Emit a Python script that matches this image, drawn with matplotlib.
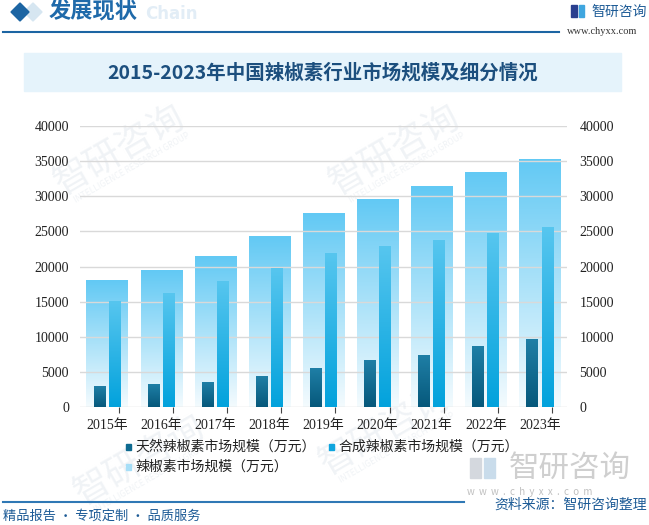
import numpy as np
import matplotlib
matplotlib.use('Agg')
import matplotlib.pyplot as plt
from matplotlib.colors import LinearSegmentedColormap
from matplotlib.patches import Rectangle, Polygon

plt.rcParams['font.family'] = ['Noto Sans CJK SC', 'DejaVu Sans']

years = ['2015年', '2016年', '2017年', '2018年', '2019年', '2020年', '2021年', '2022年', '2023年']
natural = [2850, 3150, 3550, 4400, 5550, 6550, 7400, 8550, 9550]
synthetic = [15000, 16100, 17800, 19700, 21800, 22800, 23650, 24650, 25500]
total = [18000, 19400, 21400, 24200, 27500, 29500, 31350, 33350, 35200]
yticks = [0, 5000, 10000, 15000, 20000, 25000, 30000, 35000, 40000]
legend_labels = ['天然辣椒素市场规模（万元）', '合成辣椒素市场规模（万元）', '辣椒素市场规模（万元）']

W, H = 649, 525
blue = '#1c65a3'
fig = plt.figure(figsize=(W / 100, H / 100), dpi=100)

# background layer in pixel coords
bg = fig.add_axes([0, 0, 1, 1], zorder=-1)
bg.set_xlim(0, W)
bg.set_ylim(H, 0)
bg.axis('off')

# faint watermarks
for (wx, wy) in [(120, 150), (395, 150), (140, 460), (385, 430)]:
    bg.text(wx, wy, '智研咨询', fontsize=26, color='#f0f3f6', rotation=30,
            ha='center', va='center', zorder=0)
    bg.text(wx + 12, wy + 18, 'INTELLIGENCE RESEARCH GROUP', fontsize=6, color='#f0f3f6',
            rotation=30, ha='center', va='center', zorder=0)

# header
bg.add_patch(Polygon([(33, 3), (42, 12), (33, 21), (24, 12)], color='#d6e6f1', zorder=1))
bg.add_patch(Polygon([(20, 3), (29, 12), (20, 21), (11, 12)], color=blue, zorder=2))
bg.text(198, 14, 'Chain', fontsize=12, fontweight='bold', color='#e2edf6',
        ha='right', va='center', family='DejaVu Sans', zorder=1)
bg.text(49, 12, '发展现状', fontsize=16, fontweight='bold', color='#1f6aaa', va='center', zorder=3)
bg.plot([3, 559], [32, 32], color=blue, lw=1.5)
bg.add_patch(Rectangle((571, 5), 6, 12, color='#2a3f8f'))
bg.add_patch(Rectangle((579, 5), 5, 12, color='#3fa6df'))
bg.text(591, 12, '智研咨询', fontsize=10, color='#1d5b96', va='center')
bg.text(567, 32, 'www.chyxx.com', fontsize=7.5, color='#333333', va='center',
        family='Liberation Serif')

# title box
bg.add_patch(Rectangle((24, 53), 597, 38, color='#e5f3fb'))
bg.text(323, 73, '2015-2023年中国辣椒素行业市场规模及细分情况', fontsize=14, fontweight='bold',
        color='#1c4f7e', ha='center', va='center')

# footer
bg.text(570, 468, '智研咨询', fontsize=22, color='#cfcfcf', ha='center', va='center')
bg.add_patch(Rectangle((470, 458), 11, 20, color='#d4d8de'))
bg.add_patch(Rectangle((484, 458), 11, 20, color='#c9dceb'))
bg.text(530, 492, 'w  w  w  .  c  h  y  x  x  .  c  o  m', fontsize=7, color='#c0c0c0',
        ha='center', va='center')
bg.plot([3, 464], [502, 502], color='#2f78b5', lw=1.5)
bg.text(647, 505, '资料来源：智研咨询整理', fontsize=10, color='#1d5b96', ha='right', va='center')
bg.text(3, 516, '精品报告 · 专项定制 · 品质服务', fontsize=9.5, color='#1d5b96', va='center')

# chart
ax = fig.add_axes([80 / W, 1 - 407 / H, (567 - 80) / W, (407 - 126) / H])
ax.set_facecolor('none')
x = np.arange(len(years))


def grad_fill(bars, bottom_c, top_c, z):
    cmap = LinearSegmentedColormap.from_list('g', [bottom_c, top_c])
    grad = np.linspace(0, 1, 256).reshape(-1, 1)
    for b in bars:
        x0, w, h = b.get_x(), b.get_width(), b.get_height()
        ax.imshow(grad, extent=[x0, x0 + w, 0, h], origin='lower', aspect='auto',
                  cmap=cmap, zorder=z, interpolation='bicubic')


b_tot = ax.bar(x, total, width=0.76, color='none', zorder=1)
b_nat = ax.bar(x - 0.14, natural, width=0.22, color='none', zorder=3)
b_syn = ax.bar(x + 0.14, synthetic, width=0.22, color='none', zorder=3)
grad_fill(b_tot, '#f4fbfe', '#62c9f4', 1)
grad_fill(b_nat, '#06587b', '#1f7fa6', 3)
grad_fill(b_syn, '#02a2dc', '#57c6ef', 3)

for yv in yticks:
    ax.axhline(yv, color='#d9d9d9', lw=1, zorder=2)

ax.set_xlim(-0.5, len(years) - 0.5)
ax.set_ylim(0, 40000)
for s in ax.spines.values():
    s.set_visible(False)

tick_font = ['Liberation Serif', 'Noto Sans CJK SC']
ax.set_yticks(yticks)
ax.set_yticklabels([str(v) for v in yticks], family=tick_font, fontsize=10, color='#222222')
ax.tick_params(axis='y', length=0, pad=8)
ax.set_xticks(x)
ax.set_xticklabels(years, family=tick_font, fontsize=10, color='#222222')
ax.tick_params(axis='x', which='major', length=0, pad=9)
ax.set_xticks(x + 0.22, minor=True)
ax.tick_params(axis='x', which='minor', length=4, color='#444444', width=0.8)

ax2 = ax.twinx()
ax2.set_ylim(0, 40000)
ax2.set_yticks(yticks)
ax2.set_yticklabels([str(v) for v in yticks], family=tick_font, fontsize=10, color='#222222')
ax2.tick_params(axis='y', length=0, pad=9)
for s in ax2.spines.values():
    s.set_visible(False)

# legend
leg_pos = [(126, 447), (329, 447), (126, 467)]
leg_cols = ['#0e6a90', '#0fa5de', '#a6def7']
for (lx, ly), c, lab in zip(leg_pos, leg_cols, legend_labels):
    bg.add_patch(Rectangle((lx, ly - 3), 5, 6, color=c))
    bg.text(lx + 9, ly, lab, fontsize=10, color='#222222', va='center')

fig.savefig('out.png', dpi=100)
